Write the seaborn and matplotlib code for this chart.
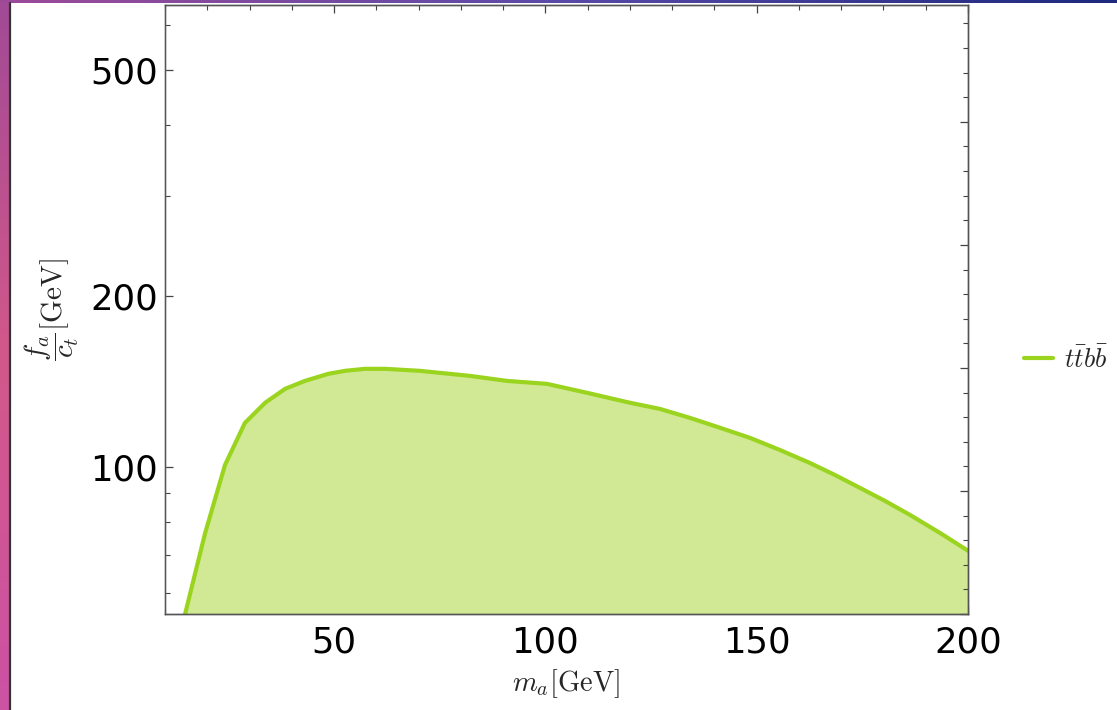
import numpy as np
import matplotlib
matplotlib.use('Agg')
import matplotlib.pyplot as plt
import seaborn as sns
from matplotlib.ticker import FixedLocator, MultipleLocator, NullFormatter
from matplotlib.colors import LinearSegmentedColormap

# exclusion curve
m_a = [14.7, 19.5, 24.2, 28.9, 33.7, 38.4, 43.1, 48.6, 52.6, 57.3, 62.1, 70.3,
       82.2, 90.9, 100.4, 109.9, 120.0, 127.1, 134.2, 141.3, 148.4, 155.5, 162.6,
       168.5, 174.5, 180.4, 186.3, 193.4, 200.0]
f_a = [54.9, 76.5, 100.8, 119.5, 129.7, 137.2, 141.7, 145.8, 147.6, 148.8, 148.8, 147.6,
       144.6, 141.7, 140.0, 135.0, 129.7, 126.5, 122.0, 117.2, 112.5, 107.1, 101.6,
       96.8, 91.8, 87.1, 82.3, 76.5, 71.2]
y_ticks = [100, 200, 500]
x_ticks = [50, 100, 150, 200]
label = r'$t\bar{t}b\bar{b}$'

line_col = '#9bd41f'
fill_col = '#d1e995'

sns.set_style('ticks')
plt.rcParams['mathtext.fontset'] = 'cm'
plt.rcParams['font.family'] = ['DejaVu Sans']

fig = plt.figure(figsize=(11.17, 7.10), dpi=100)
ax = fig.add_axes([165/1117, 1 - 614/710, (968 - 165)/1117, (614 - 5)/710])

ax.fill_between(m_a, f_a, 1, color=fill_col, lw=0)
sns.lineplot(x=m_a, y=f_a, ax=ax, color=line_col, lw=3.0, label=label, sort=False)

ax.set_yscale('log')
ax.set_xlim(10, 200)
ax.set_ylim(55.1, 650)

ax.yaxis.set_major_locator(FixedLocator(y_ticks))
ax.yaxis.set_minor_locator(FixedLocator([60, 70, 80, 90, 300, 400, 600]))
ax.set_yticklabels([str(t) for t in y_ticks])
ax.yaxis.set_minor_formatter(NullFormatter())
ax.xaxis.set_major_locator(FixedLocator(x_ticks))
ax.xaxis.set_minor_locator(MultipleLocator(10))
ax.set_xticklabels([str(t) for t in x_ticks])

ax.tick_params(which='both', direction='in', top=True, right=False, colors='#444444',
               labelcolor='black', labelsize=25.5)
ax.tick_params(which='major', length=6, width=0.9)
ax.tick_params(which='minor', length=3.6, width=0.8)
ax.tick_params(axis='y', pad=5)
ax.tick_params(axis='x', pad=8)

# evenly spaced ticks on the right edge
ax2 = ax.twinx()
ax2.set_ylim(0, 4.95)
ax2.yaxis.set_major_locator(MultipleLocator(1))
ax2.yaxis.set_minor_locator(MultipleLocator(0.2))
ax2.tick_params(which='both', direction='in', labelright=False, colors='#444444')
ax2.tick_params(which='major', length=6, width=0.9)
ax2.tick_params(which='minor', length=3.6, width=0.8)

for a in (ax, ax2):
    for s in a.spines.values():
        s.set_color('#555555')
        s.set_linewidth(1.0)
ax.spines['left'].set_color('#999999')

ax.set_xlabel(r'$m_a[\mathrm{GeV}]$', fontsize=20.5, va='top')
ax.xaxis.set_label_coords(0.5, -0.088)
ax.set_ylabel(r'$\dfrac{f_a}{c_t}[\mathrm{GeV}]$', fontsize=21)
ax.yaxis.set_label_coords(-0.105, 0.5)

ax.legend(loc='center left', bbox_to_anchor=(1.07, 0.417), frameon=False, fontsize=19,
          borderpad=0, borderaxespad=0, handlelength=1.1, handletextpad=0.42)

# screenshot border strips
side = fig.add_axes([0, 0, 9/1117, 1])
cm_side = LinearSegmentedColormap.from_list('s', ['#a24a96', '#d2588a', '#cc52a4'])
side.imshow(np.linspace(0, 1, 100).reshape(-1, 1), aspect='auto', cmap=cm_side)
side.axis('off')
top = fig.add_axes([0, 1 - 3/710, 1, 3/710])
cm_top = LinearSegmentedColormap.from_list('t', ['#9c4a98', '#5a4aa8', '#1e2a7e'])
top.imshow(np.linspace(0, 1, 100).reshape(1, -1), aspect='auto', cmap=cm_top)
top.axis('off')
fig.add_artist(plt.Line2D([10/1117, 10/1117], [0, 1 - 3/710], color='#333333', lw=1.6,
                          transform=fig.transFigure))

fig.savefig('out.png', dpi=100)
